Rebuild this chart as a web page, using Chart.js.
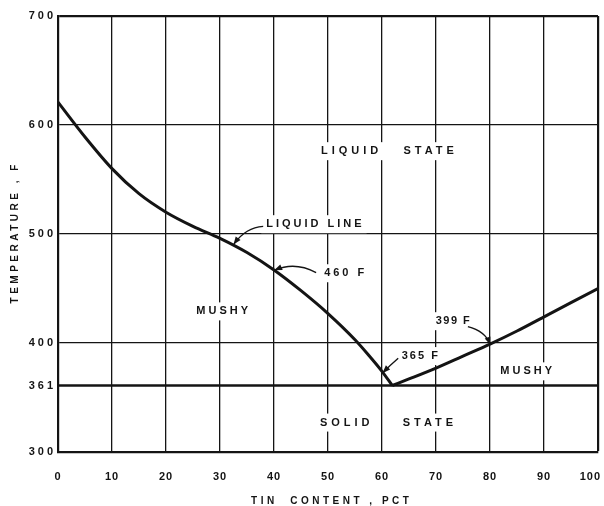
<!DOCTYPE html>
<html>
<head>
<meta charset="utf-8">
<title>Lead-tin phase diagram</title>
<script src="https://cdn.jsdelivr.net/npm/chart.js@4/dist/chart.umd.min.js"></script>
<style>
  html, body { margin: 0; padding: 0; background: #fff; }
  #wrap { position: relative; width: 604px; height: 506px; }
</style>
</head>
<body>
<div id="wrap"><canvas id="phase-chart"></canvas></div>
<script>
// liquidus, lead-rich side (tin pct -> deg F)
const tinLeft = [0, 5, 10, 15, 20, 25, 30, 35, 40, 45, 50, 55, 57.5, 60, 61.9];
const tempLeft = [621, 589, 560, 537, 520, 507, 496, 483, 467, 448, 427, 403, 389, 374, 361];

// liquidus, tin-rich side
const tinRight = [61.9, 65, 70, 75, 80, 85, 90, 95, 100];
const tempRight = [361, 367, 377, 388, 399, 411, 424, 437, 450];

// solidus (eutectic line)
const tinSolid = [0, 100];
const tempSolid = [361, 361];

const yTicks = [300, 361, 400, 500, 600, 700];
const xTicks = [0, 10, 20, 30, 40, 50, 60, 70, 80, 90, 100];

const INK = '#141414';
const FONT = '"Liberation Sans", Arial, sans-serif';

// text on the plot, placed in data units
const notes = [
  { text: 'LIQUID   STATE', x: 61, y: 576, spacing: 4, box: true },
  { text: 'LIQUID LINE', x: 47.4, y: 509, spacing: 3, box: true },
  { text: '460 F', x: 53, y: 464, spacing: 3, box: true },
  { text: 'MUSHY', x: 30.4, y: 429, spacing: 3, box: true },
  { text: '399 F', x: 73.1, y: 420, spacing: 1.5, box: true },
  { text: '365 F', x: 67, y: 388, spacing: 2, box: true },
  { text: 'MUSHY', x: 86.7, y: 374, spacing: 3, box: true },
  { text: 'SOLID', x: 53.1, y: 327, spacing: 4, box: true },
  { text: 'STATE', x: 68.5, y: 327, spacing: 4, box: true }
];

// leader arrows: start, bend, tip (data units)
const leaders = [
  { from: [38, 507], via: [34.8, 506], to: [32.6, 491] },
  { from: [47.8, 464.6], via: [43.9, 475], to: [40.2, 467] },
  { from: [75.9, 415], via: [79.1, 411], to: [80, 399] },
  { from: [63, 386], via: [61.6, 380], to: [60.2, 373] }
];

const toPoints = (xs, ys) => xs.map((x, i) => ({ x: x, y: ys[i] }));

function spacedText(ctx, text, cx, cy, spacing, size, box) {
  ctx.save();
  ctx.font = `bold ${size}px ${FONT}`;
  ctx.letterSpacing = spacing + 'px';
  const w = ctx.measureText(text).width - spacing;
  if (box) {
    ctx.fillStyle = '#fff';
    ctx.fillRect(cx - w / 2 - 5, cy - 9, w + 10, 18);
  }
  ctx.fillStyle = INK;
  ctx.textAlign = 'left';
  ctx.textBaseline = 'middle';
  ctx.fillText(text, cx - w / 2, cy);
  ctx.restore();
}

function patchLabels(scale, spacing) {
  if (scale._spaced) return;
  scale._spaced = true;
  const draw = scale.drawLabels.bind(scale);
  scale.drawLabels = (area) => {
    scale.ctx.save();
    scale.ctx.letterSpacing = spacing + 'px';
    draw(area);
    scale.ctx.restore();
  };
}

const diagramText = {
  id: 'diagramText',
  afterLayout(chart) {
    patchLabels(chart.scales.x, 1);
    patchLabels(chart.scales.y, 3);
    // keep "100" inside the canvas
    const xs = chart.scales.x;
    if (!xs._lastFix) {
      xs._lastFix = true;
      const getItems = xs.getLabelItems.bind(xs);
      xs.getLabelItems = (area) => {
        const items = getItems(area);
        const last = items[items.length - 1];
        if (last && last.label === '100') {
          last.options.textAlign = 'right';
          last.options.translation[0] = xs.right + 3;
        }
        return items;
      };
    }
  },
  beforeDatasetsDraw(chart) {
    const { ctx, scales: { x, y } } = chart;
    notes.forEach(n => {
      spacedText(ctx, n.text, x.getPixelForValue(n.x), y.getPixelForValue(n.y), n.spacing, 11, n.box);
    });
  },
  afterDatasetsDraw(chart) {
    const { ctx, scales: { x, y } } = chart;
    const px = p => [x.getPixelForValue(p[0]), y.getPixelForValue(p[1])];

    leaders.forEach(l => {
      const a = px(l.from), b = px(l.via), c = px(l.to);
      ctx.save();
      ctx.strokeStyle = INK;
      ctx.fillStyle = INK;
      ctx.lineWidth = 1.4;
      ctx.beginPath();
      ctx.moveTo(a[0], a[1]);
      ctx.quadraticCurveTo(b[0], b[1], c[0], c[1]);
      ctx.stroke();
      // arrowhead
      const ang = Math.atan2(c[1] - b[1], c[0] - b[0]);
      ctx.translate(c[0], c[1]);
      ctx.rotate(ang);
      ctx.beginPath();
      ctx.moveTo(1, 0);
      ctx.lineTo(-7, -3);
      ctx.lineTo(-7, 3);
      ctx.closePath();
      ctx.fill();
      ctx.restore();
    });

    // axis titles
    const area = chart.chartArea;
    spacedText(ctx, 'TIN  CONTENT , PCT', (area.left + area.right) / 2 + 2, 501, 3.5, 10, false);
    ctx.save();
    ctx.translate(15, (area.top + area.bottom) / 2);
    ctx.rotate(-Math.PI / 2);
    spacedText(ctx, 'TEMPERATURE , F', 0, 0, 3.5, 10, false);
    ctx.restore();
  }
};

const lineStyle = {
  showLine: true,
  borderColor: INK,
  borderWidth: 3,
  pointRadius: 0,
  pointHoverRadius: 0,
  fill: false
};

new Chart(document.getElementById('phase-chart'), {
  type: 'scatter',
  data: {
    datasets: [
      { ...lineStyle, label: 'Liquid line (lead side)', data: toPoints(tinLeft, tempLeft), cubicInterpolationMode: 'monotone' },
      { ...lineStyle, label: 'Liquid line (tin side)', data: toPoints(tinRight, tempRight), cubicInterpolationMode: 'monotone' },
      { ...lineStyle, label: 'Solid line', data: toPoints(tinSolid, tempSolid), borderWidth: 2.6 }
    ]
  },
  options: {
    responsive: true,
    maintainAspectRatio: false,
    animation: false,
    layout: { padding: { top: 16, right: 6, left: 0, bottom: 0 } },
    plugins: {
      legend: { display: false },
      tooltip: { enabled: false }
    },
    scales: {
      x: {
        type: 'linear',
        min: 0,
        max: 100,
        afterBuildTicks: (scale) => { scale.ticks = xTicks.map(v => ({ value: v })); },
        afterFit: (scale) => { scale.height = 54; scale.paddingLeft = 0; scale.paddingRight = 0; },
        grid: {
          color: INK,
          lineWidth: (c) => (c.tick && c.tick.value === 100 ? 2.2 : 1.3),
          drawTicks: false
        },
        border: { display: true, color: INK, width: 2.2 },
        ticks: {
          color: INK,
          padding: 18,
          maxRotation: 0,
          autoSkip: false,
          font: { family: FONT, size: 11, weight: 'bold' },
          callback: (v) => String(v)
        },
        title: { display: false }
      },
      y: {
        type: 'linear',
        min: 300,
        max: 700,
        afterBuildTicks: (scale) => { scale.ticks = yTicks.map(v => ({ value: v })); },
        afterFit: (scale) => { scale.width = 58; scale.paddingTop = 0; scale.paddingBottom = 0; },
        grid: {
          color: (c) => (c.tick && c.tick.value === 361 ? 'rgba(0,0,0,0)' : INK),
          lineWidth: (c) => (c.tick && c.tick.value === 700 ? 2.2 : 1.3),
          drawTicks: false
        },
        border: { display: true, color: INK, width: 2.2 },
        ticks: {
          color: INK,
          padding: 2,
          autoSkip: false,
          font: { family: FONT, size: 11, weight: 'bold' },
          callback: (v) => String(v)
        },
        title: { display: false }
      }
    }
  },
  plugins: [diagramText]
});
</script>
</body>
</html>
